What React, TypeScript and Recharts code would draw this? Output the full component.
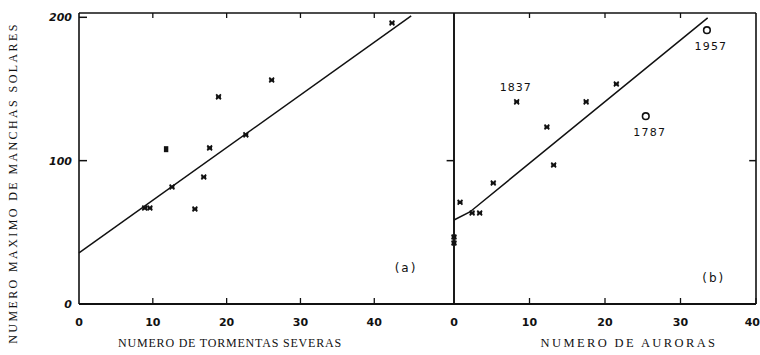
import React from 'react';
import { ScatterChart, Scatter, XAxis, YAxis, ReferenceDot, ReferenceLine, Label } from 'recharts';

// ---- Panel (a): storms vs sunspot maximum ----
const stormX = [8.9, 9.6, 12.6, 15.7, 16.9, 17.7, 18.9, 22.6, 26.1, 42.4];
const stormY = [67, 67, 81.6, 66.3, 88.6, 108.9, 144.5, 118, 156.3, 196];
const stormSquareX = [11.8];
const stormSquareY = [108];
const stormFitX = [0, 45];
const stormFitY = [35.6, 201];

// ---- Panel (b): auroras vs sunspot maximum ----
const auroraX = [0, 0, 0.8, 2.4, 3.4, 5.2, 12.3, 13.2, 17.5, 21.5];
const auroraY = [46.8, 42.6, 71, 63.5, 63.5, 84.4, 123.5, 97, 141, 153.5];
const auroraNamedX = [8.3];
const auroraNamedY = [141];
const auroraNamedYears = ['1837'];
const circleX = [25.4, 33.5];
const circleY = [131, 191];
const circleYears = ['1787', '1957'];
const auroraFitX = [0, 2.1, 33.6];
const auroraFitY = [58.6, 64.2, 199.6];

const yTicks = [0, 100, 200];
const xTicks = [0, 10, 20, 30, 40];
const topTicksA = [10, 20, 30, 40];
const topTicksB = [10, 20, 30];
const sideTicks = [100];

const yTitle = 'NUMERO MAXIMO DE MANCHAS SOLARES';
const stormTitle = 'NUMERO DE TORMENTAS SEVERAS';
const auroraTitle = 'NUMERO DE AURORAS';

const Y_MAX = 203;
const XA_MAX = 50.8;
const XB_MAX = 40;

const zip = (xs: number[], ys: number[], names?: string[]) =>
  xs.map((x, i) => ({ x, y: ys[i], name: names ? names[i] : '' }));

const stormPts = zip(stormX, stormY);
const stormSq = zip(stormSquareX, stormSquareY);
const stormFit = zip(stormFitX, stormFitY);
const auroraPts = zip(auroraX, auroraY);
const auroraNamed = zip(auroraNamedX, auroraNamedY, auroraNamedYears);
const circles = zip(circleX, circleY, circleYears);
const auroraFit = zip(auroraFitX, auroraFitY);

const INK = '#111';
const tickFont = '"DejaVu Sans", sans-serif';
const titleFont = '"Liberation Serif", "DejaVu Serif", serif';

const Cross = (p: any) => {
  const { cx, cy } = p;
  const s = 2.4;
  return (
    <path
      d={`M${cx - s},${cy - s}L${cx + s},${cy + s}M${cx + s},${cy - s}L${cx - s},${cy + s}M${cx - s},${cy}L${cx + s},${cy}`}
      stroke={INK}
      strokeWidth={1.8}
    />
  );
};

const Square = (p: any) => {
  const { cx, cy } = p;
  return <rect x={cx - 2.2} y={cy - 3} width={4.4} height={6} fill={INK} />;
};

const NamedCross = (p: any) => {
  const { cx, cy, payload } = p;
  return (
    <g>
      <Cross cx={cx} cy={cy} />
      <text x={cx - 1} y={cy - 11} textAnchor="middle" fontFamily={tickFont} fontSize={11} letterSpacing={1} fill={INK}>
        {payload.name}
      </text>
    </g>
  );
};

const OpenCircle = (p: any) => {
  const { cx, cy, payload } = p;
  return (
    <g>
      <circle cx={cx} cy={cy} r={3.3} fill="none" stroke={INK} strokeWidth={1.6} />
      <text x={cx + 4} y={cy + 20} textAnchor="middle" fontFamily={tickFont} fontSize={11} letterSpacing={1.2} fill={INK}>
        {payload.name}
      </text>
    </g>
  );
};

const NoShape = () => <g />;

const LeftYTick = (p: any) => {
  const { x, y, payload } = p;
  return (
    <g>
      <line x1={x} y1={y} x2={x + 8} y2={y} stroke={INK} strokeWidth={1.5} />
      <text x={x - 7} y={y + 4} textAnchor="end" fontFamily={tickFont} fontStyle="italic" fontWeight="bold" fontSize={11} fill={INK}>
        {payload.value}
      </text>
    </g>
  );
};

const makeBottomTick = (edgeValue: number | null) => (p: any) => {
  const { x, y, payload } = p;
  const atEdge = edgeValue !== null && payload.value === edgeValue;
  return (
    <g>
      {payload.value !== 0 && <line x1={x} y1={y} x2={x} y2={y - 6} stroke={INK} strokeWidth={1.3} />}
      <text
        x={atEdge ? x + 4 : x}
        y={y + 22}
        textAnchor={atEdge ? 'end' : 'middle'}
        fontFamily={tickFont}
        fontWeight="bold"
        fontSize={11}
        fill={INK}
      >
        {payload.value}
      </text>
    </g>
  );
};
const BottomTickA = makeBottomTick(null);
const BottomTickB = makeBottomTick(40);

const frame = { stroke: INK, strokeWidth: 1.6 };
const axisLine = { stroke: INK, strokeWidth: 1.6 };
const baseLine = { stroke: INK, strokeWidth: 2.2 };

// inward tick marks along the top and right frame, expressed in data units
const topTickSeg = (x: number) => [
  { x, y: Y_MAX },
  { x, y: Y_MAX - 3.5 },
];
const rightTickSeg = (xMax: number, len: number) => (y: number) => [
  { x: xMax, y },
  { x: xMax - len, y },
];

export default function App() {
  return (
    <div style={{ position: 'absolute', left: 0, top: 0, width: 760, height: 355, background: '#fff' }}>
      <div style={{ position: 'absolute', left: 0, top: 0 }}>
        <ScatterChart width={460} height={355} margin={{ top: 13, right: 6, bottom: 0, left: 0 }}>
          <XAxis
            type="number"
            dataKey="x"
            domain={[0, XA_MAX]}
            ticks={xTicks}
            height={51}
            axisLine={baseLine}
            tickLine={false}
            tickSize={0}
            tickMargin={0}
            tick={<BottomTickA />}
            interval={0}
          >
            <Label
              content={() => (
                <text x={230} y={347} textAnchor="middle" fontFamily={titleFont} fontSize={12} letterSpacing={0.8} fill={INK}>
                  {stormTitle}
                </text>
              )}
            />
          </XAxis>
          <YAxis
            type="number"
            dataKey="y"
            domain={[0, Y_MAX]}
            ticks={yTicks}
            width={79}
            axisLine={axisLine}
            tickLine={false}
            tickSize={0}
            tickMargin={0}
            tick={<LeftYTick />}
            interval={0}
          >
            <Label
              content={() => (
                <text
                  x={17}
                  y={183}
                  transform="rotate(-90 17 183)"
                  textAnchor="middle"
                  fontFamily={titleFont}
                  fontSize={12}
                  letterSpacing={2.4}
                  fill={INK}
                >
                  {yTitle}
                </text>
              )}
            />
          </YAxis>
          <ReferenceLine y={Y_MAX} {...frame} ifOverflow="visible" />
          <ReferenceLine x={XA_MAX} {...frame} ifOverflow="visible" />
          {topTicksA.map((t) => (
            <ReferenceLine key={'ta' + t} segment={topTickSeg(t)} stroke={INK} strokeWidth={1.3} ifOverflow="visible" />
          ))}
          {sideTicks.map((t) => (
            <ReferenceLine key={'ra' + t} segment={rightTickSeg(XA_MAX, 1)(t)} stroke={INK} strokeWidth={1.5} ifOverflow="visible" />
          ))}
          <Scatter data={stormFit} line={{ stroke: INK, strokeWidth: 1.5 }} shape={<NoShape />} isAnimationActive={false} />
          <Scatter data={stormPts} shape={<Cross />} isAnimationActive={false} />
          <Scatter data={stormSq} shape={<Square />} isAnimationActive={false} />
          <ReferenceDot
            x={44.3}
            y={25}
            r={0}
            fill="none"
            stroke="none"
            label={{ value: '(a)', position: 'center', fontFamily: tickFont, fontSize: 12, fill: INK, letterSpacing: 2 }}
          />
        </ScatterChart>
      </div>
      <div style={{ position: 'absolute', left: 440, top: 0 }}>
        <ScatterChart width={320} height={355} margin={{ top: 13, right: 4, bottom: 0, left: 0 }}>
          <XAxis
            type="number"
            dataKey="x"
            domain={[0, XB_MAX]}
            ticks={xTicks}
            height={51}
            axisLine={baseLine}
            tickLine={false}
            tickSize={0}
            tickMargin={0}
            tick={<BottomTickB />}
            interval={0}
          >
            <Label
              content={() => (
                <text x={189} y={347} textAnchor="middle" fontFamily={titleFont} fontSize={12.5} letterSpacing={2.4} fill={INK}>
                  {auroraTitle}
                </text>
              )}
            />
          </XAxis>
          <YAxis
            type="number"
            dataKey="y"
            domain={[0, Y_MAX]}
            ticks={yTicks}
            width={14}
            axisLine={axisLine}
            tickLine={false}
            tick={false}
          />
          <ReferenceLine y={Y_MAX} {...frame} ifOverflow="visible" />
          <ReferenceLine x={XB_MAX} {...frame} ifOverflow="visible" />
          {topTicksB.map((t) => (
            <ReferenceLine key={'tb' + t} segment={topTickSeg(t)} stroke={INK} strokeWidth={1.3} ifOverflow="visible" />
          ))}
          {sideTicks.map((t) => (
            <ReferenceLine key={'rb' + t} segment={rightTickSeg(XB_MAX, 0.9)(t)} stroke={INK} strokeWidth={1.5} ifOverflow="visible" />
          ))}
          <Scatter data={auroraFit} line={{ stroke: INK, strokeWidth: 1.5 }} shape={<NoShape />} isAnimationActive={false} />
          <Scatter data={auroraPts} shape={<Cross />} isAnimationActive={false} />
          <Scatter data={auroraNamed} shape={<NamedCross />} isAnimationActive={false} />
          <Scatter data={circles} shape={<OpenCircle />} isAnimationActive={false} />
          <ReferenceDot
            x={34.4}
            y={18}
            r={0}
            fill="none"
            stroke="none"
            label={{ value: '(b)', position: 'center', fontFamily: tickFont, fontSize: 12, fill: INK, letterSpacing: 2 }}
          />
        </ScatterChart>
      </div>
    </div>
  );
}
